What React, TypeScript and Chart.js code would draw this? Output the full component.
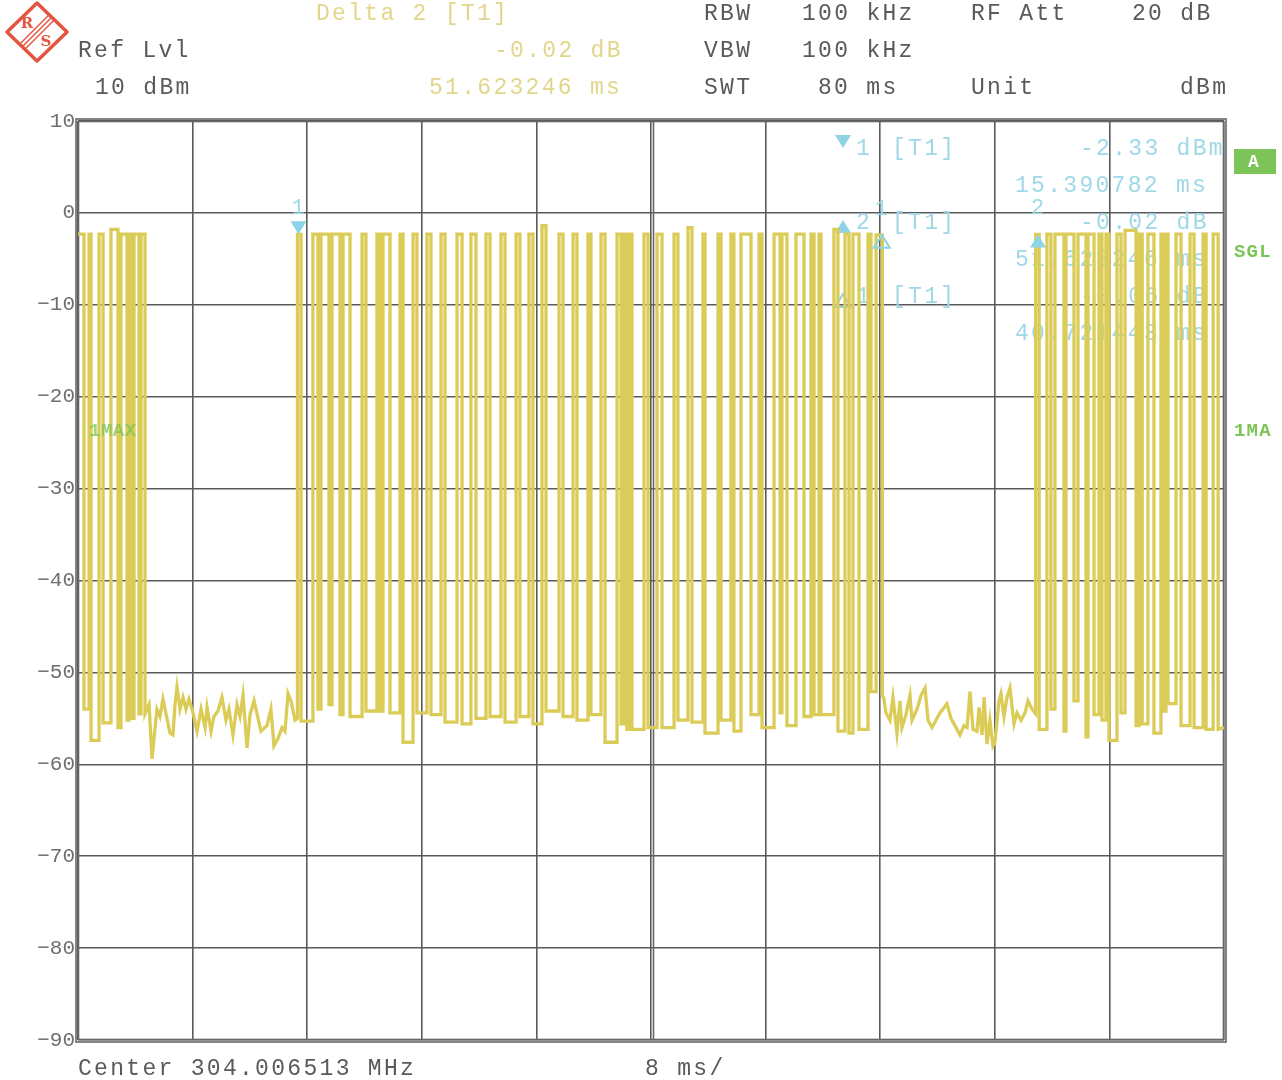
import React, { useEffect, useRef } from "react";
import { Chart, registerables } from "chart.js";

Chart.register(...registerables);

// ---------------- data (time in ms, level in dBm) ----------------
const timeMin = 0;
const timeMax = 80;
const timeStep = 8;
const levelMin = -90;
const levelMax = 10;
const levelStep = 10;

// pulses: [start ms, end ms, top dBm]
const burst1Pulses: [number, number, number][] = [
  [0.0, 0.42, -2.3], [0.77, 0.91, -2.3], [1.47, 1.75, -2.3], [2.3, 2.79, -1.8],
  [3.0, 3.42, -2.3], [3.56, 3.77, -2.3], [3.91, 4.26, -2.3], [4.4, 4.68, -2.3],
];
const burst1Lows = [-54.0, -57.4, -55.5, -56.0, -55.2, -55.0, -54.5];

const gap1Ms = [
  4.68, 4.96, 5.17, 5.51, 5.72, 5.93, 6.21, 6.42, 6.63, 6.77, 6.91, 7.12, 7.33, 7.54, 7.75,
  8.03, 8.31, 8.59, 8.87, 9.01, 9.29, 9.49, 9.77, 10.05, 10.33, 10.54, 10.82, 11.1, 11.31,
  11.52, 11.8, 12.01, 12.29, 12.57, 12.77, 13.19, 13.47, 13.68, 13.96, 14.24, 14.45, 14.66,
  14.87, 15.15, 15.32,
];
const gap1Db = [
  -54.5, -53.5, -59.4, -54.0, -54.8, -52.9, -55.0, -56.6, -56.8, -53.5, -51.6, -54.0, -52.7,
  -54.0, -52.9, -54.4, -56.4, -54.0, -56.0, -53.8, -56.4, -54.8, -54.2, -52.7, -55.2, -54.0,
  -56.8, -53.5, -54.8, -52.5, -58.2, -54.6, -53.1, -55.0, -56.4, -55.8, -54.0, -58.0, -57.2,
  -56.0, -56.4, -52.3, -53.1, -55.2, -55.0,
];

const burst2Pulses: [number, number, number][] = [
  [15.32, 15.57, -2.33], [16.4, 16.75, -2.3], [16.96, 17.52, -2.3], [17.73, 18.29, -2.3],
  [18.5, 18.99, -2.3], [19.83, 20.1, -2.3], [20.87, 21.08, -2.3], [21.29, 21.78, -2.3],
  [22.48, 22.69, -2.3], [23.39, 23.66, -2.3], [24.36, 24.64, -2.3], [25.34, 25.62, -2.3],
  [26.46, 26.81, -2.3], [27.43, 27.78, -2.3], [28.48, 28.76, -2.3], [29.53, 29.81, -2.3],
  [30.58, 30.85, -2.3], [31.48, 31.76, -2.3], [32.39, 32.67, -1.4], [33.58, 33.86, -2.3],
  [34.56, 34.83, -2.3], [35.6, 35.81, -2.3], [36.51, 36.79, -2.3], [37.63, 37.91, -2.3],
  [38.11, 38.32, -2.3], [38.46, 38.67, -2.3], [39.51, 39.79, -2.3], [40.42, 40.77, -2.3],
  [41.61, 41.88, -2.3], [42.58, 42.86, -1.6], [43.63, 43.77, -2.3], [44.68, 44.89, -2.3],
  [45.58, 45.79, -2.3], [46.28, 46.98, -2.3], [47.54, 47.75, -2.3], [48.59, 49.01, -2.3],
  [49.14, 49.49, -2.3], [50.12, 50.68, -2.3], [51.17, 51.38, -2.3], [51.73, 51.87, -2.3],
  [52.77, 53.05, -1.8], [53.54, 53.82, -2.3], [54.1, 54.52, -2.3], [55.15, 55.36, -2.3],
  [55.71, 56.15, -2.39],
];
const burst2Lows = [
  -55.3, -54.0, -53.5, -54.6, -54.8, -54.2, -54.2, -54.4, -57.6, -54.4, -54.6, -55.4, -55.6,
  -55.0, -54.8, -55.4, -54.8, -55.6, -54.2, -54.8, -55.2, -54.6, -57.6, -55.6, -56.2, -56.2,
  -56.0, -56.0, -55.2, -55.4, -56.6, -55.2, -56.4, -54.6, -56.0, -54.4, -55.8, -54.8, -54.6,
  -54.6, -56.4, -56.6, -56.2, -52.1,
];

const gap2Ms = [
  56.15, 56.25, 56.4, 56.68, 56.89, 57.17, 57.38, 57.52, 57.8, 58.08, 58.22, 58.57, 58.85,
  59.13, 59.34, 59.62, 59.89, 60.17, 60.38, 60.66, 60.94, 61.15, 61.57, 61.85, 62.06, 62.27,
  62.48, 62.76, 62.9, 63.11, 63.25, 63.46, 63.66, 63.87, 64.01, 64.29, 64.43, 64.64, 64.85,
  65.06, 65.34, 65.55, 65.83, 66.11, 66.32, 66.6, 66.85,
];
const gap2Db = [
  -52.5, -52.8, -54.4, -55.2, -52.7, -56.6, -53.1, -56.0, -54.6, -52.5, -55.2, -54.0, -52.5,
  -51.7, -55.2, -56.0, -55.2, -54.4, -54.0, -53.4, -55.0, -55.6, -56.8, -55.8, -56.0, -52.1,
  -56.2, -56.4, -53.8, -56.8, -52.7, -57.8, -55.2, -58.0, -57.6, -53.1, -52.3, -54.8, -52.7,
  -51.7, -55.6, -54.4, -55.2, -54.4, -53.1, -54.0, -54.5,
];

const burst3Pulses: [number, number, number][] = [
  [66.85, 67.1, -2.35], [67.64, 67.92, -2.3], [68.2, 68.83, -2.3], [68.97, 69.53, -2.3],
  [69.81, 70.37, -2.3], [70.51, 70.93, -2.3], [71.27, 71.48, -2.3], [71.76, 71.97, -2.3],
  [72.53, 72.81, -2.3], [73.09, 73.86, -1.9], [74.07, 74.29, -2.3], [74.69, 75.11, -2.3],
  [75.6, 75.81, -2.3], [75.95, 76.09, -2.3], [76.65, 77.0, -2.3], [77.63, 77.91, -2.3],
  [78.54, 78.75, -2.3], [79.24, 79.59, -2.3],
];
const burst3Lows = [
  -56.2, -54.0, -56.4, -53.1, -57.0, -54.6, -55.2, -57.4, -54.4, -55.8, -55.6, -56.6, -54.2,
  -53.4, -55.8, -56.0, -56.2,
];
const tailMs = [79.59, 80];
const tailDb = [-56.2, -56.0];

// markers: marker 1, delta 1, delta 2
const markerMs = [15.390782, 56.112225, 67.014028];
const markerDb = [-2.33, -2.39, -2.35];
const markerLabels = ["1", "1", "2"];

// --------------------------------------------------------------
type Pt = { x: number; y: number };

function appendBurst(pts: Pt[], pulses: [number, number, number][], lows: number[]) {
  pulses.forEach(([s, e, top], i) => {
    pts.push({ x: s, y: top });
    pts.push({ x: e, y: top });
    if (i < lows.length) {
      pts.push({ x: e, y: lows[i] });
      pts.push({ x: pulses[i + 1][0], y: lows[i] });
    }
  });
}
function appendGap(pts: Pt[], ms: number[], db: number[]) {
  ms.forEach((t, i) => pts.push({ x: t, y: db[i] }));
}
function buildTrace(): Pt[] {
  const pts: Pt[] = [];
  appendBurst(pts, burst1Pulses, burst1Lows);
  appendGap(pts, gap1Ms, gap1Db);
  appendBurst(pts, burst2Pulses, burst2Lows);
  appendGap(pts, gap2Ms, gap2Db);
  appendBurst(pts, burst3Pulses, burst3Lows);
  appendGap(pts, tailMs, tailDb);
  return pts;
}

const GRAY = "#5a5a5a";
const YELLOW = "#e2d68a";
const CYAN = "#9fd8e6";
const GREEN = "#7cc457";
const TRACE = "#dbcc58";
const GRID = "#5a5a5a";
const MONO = '"Liberation Mono", "DejaVu Sans Mono", monospace';

function txt(
  ctx: CanvasRenderingContext2D,
  s: string,
  x: number,
  y: number,
  color: string,
  size = 23,
  spacing = 2.3,
  weight = "normal",
  alpha = 1
) {
  ctx.save();
  ctx.globalAlpha = alpha;
  ctx.font = `${weight} ${size}px ${MONO}`;
  ctx.fillStyle = color;
  ctx.textBaseline = "middle";
  ctx.textAlign = "left";
  (ctx as any).letterSpacing = `${spacing}px`;
  ctx.fillText(s, x, y);
  ctx.restore();
}

function tri(ctx: CanvasRenderingContext2D, cx: number, tipY: number, down: boolean, filled: boolean) {
  const w = 8;
  const h = 13;
  ctx.save();
  ctx.beginPath();
  if (down) {
    ctx.moveTo(cx - w, tipY - h);
    ctx.lineTo(cx + w, tipY - h);
    ctx.lineTo(cx, tipY);
  } else {
    ctx.moveTo(cx, tipY);
    ctx.lineTo(cx + w, tipY + h);
    ctx.lineTo(cx - w, tipY + h);
  }
  ctx.closePath();
  if (filled) {
    ctx.fillStyle = "#8fd3e6";
    ctx.fill();
  } else {
    ctx.strokeStyle = "#8fd3e6";
    ctx.lineWidth = 2;
    ctx.stroke();
  }
  ctx.restore();
}

const overlayPlugin = {
  id: "rsOverlay",
  beforeDatasetsDraw(chart: any) {
    const ctx: CanvasRenderingContext2D = chart.ctx;
    const a = chart.chartArea;
    const xs = chart.scales.x;
    // double frame
    ctx.save();
    ctx.strokeStyle = "#666";
    ctx.lineWidth = 1.6;
    ctx.strokeRect(a.left - 2, a.top - 2, a.right - a.left + 4, a.bottom - a.top + 4);
    ctx.strokeRect(a.left + 0.5, a.top + 0.5, a.right - a.left - 1, a.bottom - a.top - 1);
    const cx = xs.getPixelForValue((timeMin + timeMax) / 2);
    ctx.beginPath();
    ctx.moveTo(cx + 2.5, a.top);
    ctx.lineTo(cx + 2.5, a.bottom);
    ctx.stroke();
    ctx.restore();

    // marker info block (behind trace)
    tri(ctx, 843, 148, true, true);
    txt(ctx, "1", 856, 149, CYAN);
    txt(ctx, "[T1]", 892, 149, CYAN);
    txt(ctx, "-2.33 dBm", 1080, 149, CYAN);
    txt(ctx, "15.390782 ms", 1015, 186, CYAN);
    tri(ctx, 843, 220, false, true);
    txt(ctx, "2", 856, 223, CYAN);
    txt(ctx, "[T1]", 892, 223, CYAN);
    txt(ctx, "-0.02 dB", 1080, 223, CYAN);
    txt(ctx, "51.623246 ms", 1015, 260, CYAN);
    tri(ctx, 843, 294, false, false);
    txt(ctx, "1", 856, 297, CYAN);
    txt(ctx, "[T1]", 892, 297, CYAN);
    txt(ctx, "-0.06 dB", 1080, 297, CYAN);
    txt(ctx, "40.721443 ms", 1015, 334, CYAN);
  },
  afterDatasetsDraw(chart: any) {
    const ctx: CanvasRenderingContext2D = chart.ctx;
    const xs = chart.scales.x;
    const ys = chart.scales.y;
    markerMs.forEach((t, i) => {
      const px = xs.getPixelForValue(t);
      const py = ys.getPixelForValue(markerDb[i]);
      if (i === 0) tri(ctx, px, py, true, true);
      else tri(ctx, px, py, false, i === 2);
      txt(ctx, markerLabels[i], px - 7, py - 26, CYAN, 22, 0);
    });
    txt(ctx, "1MAX", 89, 431, GREEN, 19, 0.5, "bold", 0.75);
  },
  afterDraw(chart: any) {
    const ctx: CanvasRenderingContext2D = chart.ctx;
    // header
    txt(ctx, "Delta 2 [T1]", 316, 14, YELLOW);
    txt(ctx, "Ref Lvl", 78, 51, GRAY);
    txt(ctx, "-0.02 dB", 494, 51, YELLOW);
    txt(ctx, "10 dBm", 95, 88, GRAY);
    txt(ctx, "51.623246 ms", 429, 88, YELLOW);
    txt(ctx, "RBW", 704, 14, GRAY);
    txt(ctx, "100 kHz", 802, 14, GRAY);
    txt(ctx, "RF Att", 971, 14, GRAY);
    txt(ctx, "20 dB", 1132, 14, GRAY);
    txt(ctx, "VBW", 704, 51, GRAY);
    txt(ctx, "100 kHz", 802, 51, GRAY);
    txt(ctx, "SWT", 704, 88, GRAY);
    txt(ctx, "80 ms", 818, 88, GRAY);
    txt(ctx, "Unit", 971, 88, GRAY);
    txt(ctx, "dBm", 1180, 88, GRAY);
    // footer
    txt(ctx, "Center 304.006513 MHz", 78, 1069, GRAY);
    txt(ctx, "8 ms/", 645, 1069, GRAY);

    // right side labels
    ctx.save();
    ctx.fillStyle = GREEN;
    ctx.fillRect(1234, 149, 42, 25);
    ctx.restore();
    txt(ctx, "A", 1248, 162, "#ffffff", 18, 0, "bold");
    txt(ctx, "SGL", 1234, 252, GREEN, 19, 1.2, "bold");
    txt(ctx, "1MA", 1234, 431, GREEN, 19, 1.2, "bold");

    // R&S logo
    ctx.save();
    ctx.strokeStyle = "#e4553f";
    ctx.fillStyle = "#e4553f";
    ctx.lineWidth = 3.5;
    ctx.lineJoin = "round";
    ctx.beginPath();
    ctx.moveTo(37, 3);
    ctx.lineTo(67, 32);
    ctx.lineTo(37, 61);
    ctx.lineTo(7, 32);
    ctx.closePath();
    ctx.stroke();
    ctx.lineWidth = 1.4;
    for (let k = -1; k <= 1; k++) {
      ctx.beginPath();
      ctx.moveTo(22 + k * 2.6, 47 + k * 2.6);
      ctx.lineTo(51 + k * 2.6, 18 + k * 2.6);
      ctx.stroke();
    }
    ctx.font = `bold 15px "DejaVu Serif", serif`;
    ctx.textAlign = "center";
    ctx.textBaseline = "middle";
    ctx.fillText("R", 27, 24);
    ctx.fillText("S", 46, 42);
    ctx.restore();
  },
};

export default function App() {
  const ref = useRef<HTMLCanvasElement | null>(null);
  useEffect(() => {
    document.body.style.margin = "0";
    const canvas = ref.current;
    if (!canvas) return;
    const chart = new Chart(canvas, {
      type: "line",
      data: {
        datasets: [
          {
            data: buildTrace(),
            borderColor: TRACE,
            borderWidth: 3.3,
            pointRadius: 0,
            tension: 0,
            fill: false,
          },
        ],
      },
      options: {
        animation: false,
        responsive: false,
        layout: { padding: { left: 0, top: 121, right: 58, bottom: 0 } },
        plugins: { legend: { display: false }, tooltip: { enabled: false } },
        scales: {
          x: {
            type: "linear",
            min: timeMin,
            max: timeMax,
            ticks: { display: false, stepSize: timeStep },
            grid: { color: GRID, lineWidth: 1.6, drawTicks: false },
            border: { display: false },
            afterFit: (s: any) => {
              s.height = 40;
            },
          },
          y: {
            type: "linear",
            min: levelMin,
            max: levelMax,
            ticks: {
              stepSize: levelStep,
              color: "#6e6e6e",
              padding: 3,
              font: { family: MONO, size: 21 },
              callback: (v: any) => (Number(v) < 0 ? "\u2212" + Math.abs(Number(v)) : String(v)),
            },
            grid: { color: GRID, lineWidth: 1.6, drawTicks: false },
            border: { display: false },
            afterFit: (s: any) => {
              s.width = 78;
            },
          },
        },
      },
      plugins: [overlayPlugin],
    } as any);
    return () => chart.destroy();
  }, []);
  return (
    <div style={{ position: "absolute", left: 0, top: 0, width: 1282, height: 1080, background: "#fff" }}>
      <canvas ref={ref} width={1282} height={1080} style={{ display: "block" }} />
    </div>
  );
}
